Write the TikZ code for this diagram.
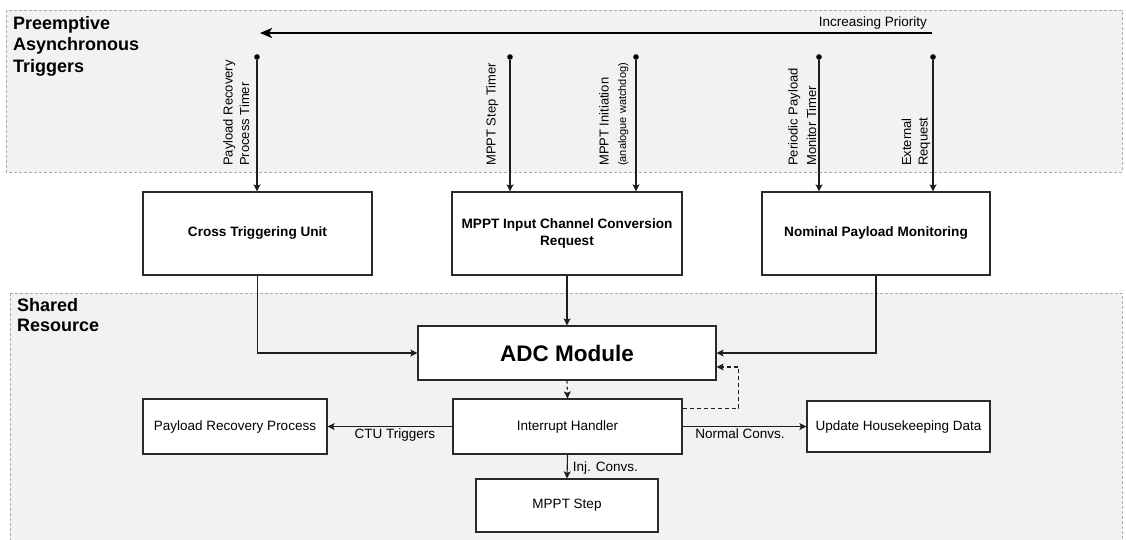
\documentclass[tikz,border=0pt]{standalone}
\usepackage{fontspec}
\setmainfont{Liberation Sans}
\usetikzlibrary{arrows.meta,calc}
\definecolor{bgc}{HTML}{F2F2F2}
\definecolor{dashc}{HTML}{ABABAB}
\definecolor{linec}{HTML}{1E1E1E}
\definecolor{boxc}{HTML}{2A2A2A}
\begin{document}
\begin{tikzpicture}[x=1pt,y=-1pt,
  region/.style={fill=bgc, draw=dashc, line width=0.8pt, dash pattern=on 3pt off 2pt},
  box/.style={draw=boxc, fill=white, line width=1.2pt, inner sep=2pt, align=center,
    font=\fontsize{13.5}{16.5}\selectfont},
  bbox/.style={box, font=\fontsize{13.6}{16.5}\selectfont\bfseries},
  conn/.style={draw=linec, line width=1.1pt, -{Stealth[length=7pt,width=7pt,inset=1.5pt]}},
  dot/.style={circle, fill=black, inner sep=0pt, minimum size=5.6pt},
  rlab/.style={rotate=90, anchor=base west, inner sep=0pt, font=\fontsize{13}{15}\selectfont},
  lab/.style={inner sep=0pt, font=\fontsize{13.5}{16}\selectfont},
  title/.style={anchor=north west, inner sep=0pt, align=left}
]
\useasboundingbox (0,0) rectangle (1126,539);
\fill[white] (0,0) rectangle (1126,539);

% regions
\draw[region] (6,10) rectangle (1122,172);
\draw[region] (10,293) rectangle (1122,560);

\node[title, font=\fontsize{18}{21.5}\selectfont\bfseries] (ttop) at (13,16) {Preemptive\\Asynchronous\\Triggers};
\node[title, font=\fontsize{18}{19.5}\selectfont\bfseries] (tbot) at (17,298.5) {Shared\\Resource};

% priority arrow
\coordinate (pstart) at (932,33);
\coordinate (pend) at (260,33);
\draw[draw=black, line width=2pt, -{Stealth[length=12pt,width=10pt,inset=3pt]}] (pstart) -- (pend);
\node[lab, anchor=base east] (prio) at (927,26.4) {Increasing Priority};

% boxes
\node[bbox, minimum width=229, minimum height=83] (ctu) at (257.5,233.5) {Cross Triggering Unit};
\node[bbox, minimum width=230, minimum height=83] (mip) at (567,233.5) {MPPT Input Channel Conversion\\Request};
\node[bbox, minimum width=228, minimum height=83] (npm) at (876,233.5) {Nominal Payload Monitoring};
\node[box, minimum width=298, minimum height=54, font=\fontsize{22.5}{26}\selectfont\bfseries] (adc) at (567,353) {ADC Module};
\node[box, minimum width=229, minimum height=55] (ih) at (567.5,426.5) {Interrupt Handler};
\node[box, minimum width=184, minimum height=55] (prp) at (235,426.5) {Payload Recovery Process};
\node[box, minimum width=183, minimum height=51] (uhd) at (898.5,426.5) {Update Housekeeping Data};
\node[box, minimum width=182, minimum height=53] (mps) at (567,505.5) {MPPT Step};

% trigger dots
\node[dot] (t1) at (257,57) {};
\node[dot] (t2) at (510,57) {};
\node[dot] (t3) at (636,57) {};
\node[dot] (t4) at (819,57) {};
\node[dot] (t5) at (933,57) {};

\draw[conn] (t1) -- (t1 |- ctu.north);
\draw[conn] (t2) -- (t2 |- mip.north);
\draw[conn] (t3) -- (t3 |- mip.north);
\draw[conn] (t4) -- (t4 |- npm.north);
\draw[conn] (t5) -- (t5 |- npm.north);

% rotated labels
\node[rlab] (l1a) at (232.5,166) {Payload Recovery};
\node[rlab] (l1b) at (249,166) {Process Timer};
\node[rlab] (l2) at (495.5,166) {MPPT Step Timer};
\node[rlab] (l3a) at (608.5,166) {MPPT Initiation};
\node[rlab, font=\fontsize{11}{13}\selectfont] (l3b) at (626,166) {(analogue watchdog)};
\node[rlab] (l4a) at (797.5,166) {Periodic Payload};
\node[rlab] (l4b) at (816,166) {Monitor Timer};
\node[rlab] (l5a) at (911,166) {External};
\node[rlab] (l5b) at (927.5,166) {Request};

% connectors to ADC
\draw[conn] (ctu.south) |- (adc.west);
\draw[conn] (mip.south) -- (adc.north);
\draw[conn] (npm.south) |- (adc.east);
\draw[conn, dashed] (adc.south) -- (ih.north);
\draw[conn, dash pattern=on 4pt off 3pt] ([yshift=-10pt]ih.north east) -- ++(56,0) |- ([yshift=-14pt]adc.east);

% outputs of interrupt handler
\draw[conn] (ih.west) -- node[lab, pos=0.46, anchor=north, yshift=-2pt] (ctul) {CTU Triggers} (prp.east);
\draw[conn] (ih.east) -- node[lab, pos=0.464, anchor=north, yshift=-2pt] (ncl) {Normal Convs.} (uhd.west);
\draw[conn] (ih.south) -- node[lab, pos=0.58, anchor=west, xshift=5pt] (icl) {Inj. Convs.} (mps.north);
\end{tikzpicture}
\end{document}
